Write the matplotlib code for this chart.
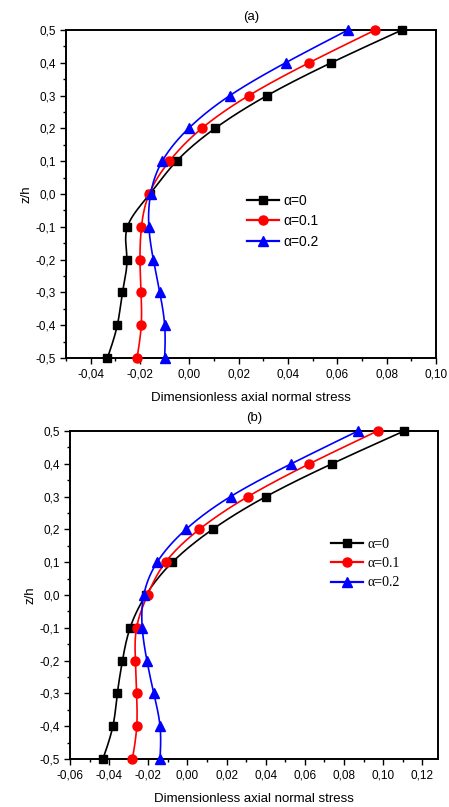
import numpy as np
import matplotlib
matplotlib.use("Agg")
import matplotlib.pyplot as plt
from matplotlib.ticker import MultipleLocator, FuncFormatter
from matplotlib.lines import Line2D

# Through-thickness coordinate
z = [0.5, 0.4, 0.3, 0.2, 0.1, 0.0, -0.1, -0.2, -0.3, -0.4, -0.5]

# Panel (a): dimensionless axial normal stress
a_alpha0 = [0.0862, 0.0575, 0.0315, 0.0104, -0.0052, -0.0160, -0.0251, -0.0253, -0.0271, -0.0292, -0.0332]
a_alpha01 = [0.0754, 0.0485, 0.0241, 0.0050, -0.0081, -0.0163, -0.0194, -0.0200, -0.0196, -0.0195, -0.0212]
a_alpha02 = [0.0643, 0.0390, 0.0164, -0.0003, -0.0110, -0.0157, -0.0164, -0.0146, -0.0120, -0.0100, -0.0100]

# Panel (b): dimensionless axial normal stress
b_alpha0 = [0.1107, 0.0738, 0.0401, 0.0128, -0.0077, -0.0212, -0.0293, -0.0332, -0.0358, -0.0381, -0.0432]
b_alpha01 = [0.0971, 0.0623, 0.0309, 0.0060, -0.0112, -0.0204, -0.0260, -0.0266, -0.0260, -0.0259, -0.0281]
b_alpha02 = [0.0871, 0.0530, 0.0220, -0.0008, -0.0155, -0.0223, -0.0231, -0.0207, -0.0172, -0.0140, -0.0140]

labels = ["α=0", "α=0.1", "α=0.2"]
colors = ["black", "red", "blue"]
markers = ["s", "o", "^"]
msizes = [5.5, 6.5, 7]


def natural_spline(t, y, n=300):
    """Natural cubic spline of y(t) evaluated on a dense grid of t."""
    t = np.asarray(t, float)
    y = np.asarray(y, float)
    order = np.argsort(t)
    t, y = t[order], y[order]
    m = len(t)
    h = np.diff(t)
    A = np.zeros((m, m))
    r = np.zeros(m)
    A[0, 0] = A[-1, -1] = 1.0
    for i in range(1, m - 1):
        A[i, i - 1] = h[i - 1]
        A[i, i] = 2 * (h[i - 1] + h[i])
        A[i, i + 1] = h[i]
        r[i] = 3 * ((y[i + 1] - y[i]) / h[i] - (y[i] - y[i - 1]) / h[i - 1])
    c = np.linalg.solve(A, r)
    tt = np.linspace(t[0], t[-1], n)
    idx = np.clip(np.searchsorted(t, tt) - 1, 0, m - 2)
    dt = tt - t[idx]
    b = (y[1:] - y[:-1]) / h - h * (2 * c[:-1] + c[1:]) / 3
    d = (c[1:] - c[:-1]) / (3 * h)
    yy = y[idx] + b[idx] * dt + c[idx] * dt ** 2 + d[idx] * dt ** 3
    return tt, yy


comma = FuncFormatter(lambda v, p: (f"{v:.1f}" if abs(v) > 1e-9 else "0,0").replace(".", ","))
comma2 = FuncFormatter(lambda v, p: (f"{v:.2f}" if abs(v) > 1e-9 else "0,00").replace(".", ","))

plt.rcParams["font.family"] = ["Liberation Sans", "DejaVu Sans"]

fig = plt.figure(figsize=(4.49, 8.07), dpi=100)
W, H = 449, 807


def add_panel(left, top, right, bottom, series, xlim, title, legend_pos, legend_font):
    ax = fig.add_axes([left / W, 1 - bottom / H, (right - left) / W, (bottom - top) / H])
    for xs, lab, col, mk, ms in zip(series, labels, colors, markers, msizes):
        zz, xx = natural_spline(z, xs)
        ax.plot(xx, zz, color=col, lw=1.2, zorder=2)
        ax.plot(xs, z, linestyle="none", marker=mk, color=col, ms=ms, zorder=3, clip_on=False)
    ax.set_xlim(*xlim)
    ax.set_ylim(-0.5, 0.5)
    ax.xaxis.set_major_locator(MultipleLocator(0.02))
    ax.xaxis.set_minor_locator(MultipleLocator(0.01))
    ax.yaxis.set_major_locator(MultipleLocator(0.1))
    ax.yaxis.set_minor_locator(MultipleLocator(0.05))
    ax.xaxis.set_major_formatter(comma2)
    ax.yaxis.set_major_formatter(comma)
    ax.tick_params(which="major", direction="out", length=4, width=1, labelsize=8.5)
    ax.tick_params(which="minor", direction="out", length=2.5, width=1)
    for s in ax.spines.values():
        s.set_linewidth(1.4)
    ax.set_xlabel("Dimensionless axial normal stress", fontsize=9.5, labelpad=8)
    ax.set_ylabel("z/h", fontsize=9.5, labelpad=2)
    ax.set_title(title, fontsize=9.5, pad=7)
    handles = [Line2D([], [], color=c, marker=m, ms=ms, lw=1.6)
               for c, m, ms in zip(colors, markers, msizes)]
    fx, fy = legend_pos
    ax.legend(handles, labels, loc="upper left", bbox_to_anchor=(fx / W, 1 - fy / H),
              bbox_transform=fig.transFigure, frameon=False, handlelength=2.3,
              handletextpad=0.3, labelspacing=0.45, borderpad=0, borderaxespad=0,
              prop={"family": legend_font, "size": 10})
    return ax


add_panel(66, 30, 436, 358, [a_alpha0, a_alpha01, a_alpha02], (-0.05, 0.10), "(a)",
          (247, 194), ["Liberation Sans", "DejaVu Sans"])
add_panel(70, 431, 438, 759, [b_alpha0, b_alpha01, b_alpha02], (-0.06, 0.128), "(b)",
          (331, 538), ["Liberation Serif", "DejaVu Serif"])

fig.savefig("out.png", dpi=100)
